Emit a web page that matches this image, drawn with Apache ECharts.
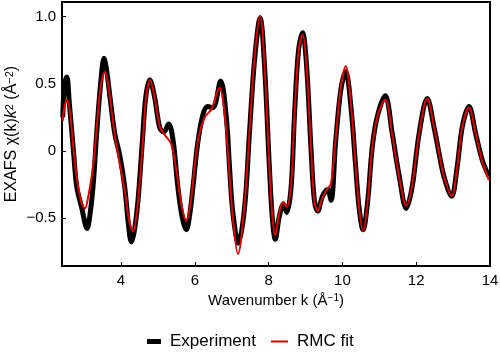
<!DOCTYPE html>
<html>
<head>
<meta charset="utf-8">
<script src="https://cdn.jsdelivr.net/npm/echarts@6/dist/echarts.min.js"></script>
<style>
  html, body { margin: 0; padding: 0; background: #fff; }
  #chart { width: 500px; height: 352px; }
</style>
</head>
<body>
<div id="chart"></div>
<script>
// experiment curve (black)
var kExp = [2.42, 2.47, 2.53, 2.60, 2.71, 2.80, 2.93, 3.08, 3.17, 3.25, 3.34, 3.45, 3.54, 3.62, 3.70, 3.83, 3.97, 4.10, 4.20, 4.28,
  4.36, 4.46, 4.58, 4.67, 4.78, 4.91, 5.05, 5.16, 5.29, 5.41, 5.54, 5.66, 5.77, 5.86, 5.95, 6.08, 6.22, 6.35, 6.49, 6.70,
  6.85, 6.94, 7.03, 7.18, 7.35, 7.48, 7.62, 7.77, 7.89, 8.02, 8.10, 8.18, 8.29, 8.40, 8.49, 8.61, 8.70, 8.81, 8.92, 9.03,
  9.15, 9.24, 9.33, 9.46, 9.60, 9.69, 9.82, 9.96, 10.09, 10.23, 10.36, 10.45, 10.56, 10.68, 10.81, 10.95, 11.16, 11.35, 11.54, 11.73,
  11.89, 12.08, 12.30, 12.48, 12.62, 12.75, 12.96, 13.11, 13.25, 13.43, 13.61, 13.79, 13.97]
var yExp = [0.25, 0.50, 0.55, 0.35, 0.00, -0.27, -0.42, -0.58, -0.45, -0.24, 0.13, 0.51, 0.69, 0.58, 0.40, 0.13, -0.04, -0.27, -0.55, -0.68,
  -0.60, -0.37, 0.08, 0.40, 0.53, 0.40, 0.17, 0.14, 0.20, 0.08, -0.27, -0.50, -0.59, -0.48, -0.27, 0.06, 0.27, 0.33, 0.32, 0.52,
  0.26, -0.12, -0.46, -0.69, -0.42, 0.13, 0.68, 0.99, 0.63, -0.12, -0.50, -0.66, -0.49, -0.40, -0.46, -0.27, 0.26, 0.75, 0.88, 0.63,
  0.01, -0.37, -0.45, -0.34, -0.29, -0.37, 0.08, 0.46, 0.59, 0.33, -0.12, -0.42, -0.59, -0.39, 0.03, 0.26, 0.41, 0.13, -0.19, -0.43,
  -0.27, 0.13, 0.39, 0.18, -0.02, -0.19, -0.34, -0.12, 0.18, 0.33, 0.13, -0.07, -0.19]

// RMC fit curve (red)
var kFit = [2.42, 2.47, 2.54, 2.62, 2.71, 2.80, 2.92, 3.02, 3.12, 3.25, 3.34, 3.45, 3.56, 3.65, 3.72, 3.85, 3.97, 4.10, 4.22, 4.33,
  4.42, 4.50, 4.60, 4.68, 4.79, 4.92, 5.05, 5.18, 5.36, 5.50, 5.65, 5.77, 5.88, 5.97, 6.10, 6.27, 6.45, 6.67, 6.80, 6.92,
  7.03, 7.17, 7.33, 7.48, 7.62, 7.77, 7.89, 8.02, 8.10, 8.18, 8.29, 8.40, 8.49, 8.61, 8.70, 8.81, 8.92, 9.03, 9.15, 9.24,
  9.33, 9.46, 9.60, 9.69, 9.82, 9.96, 10.09, 10.23, 10.36, 10.45, 10.56, 10.68, 10.81, 10.95, 11.16, 11.35, 11.54, 11.73, 11.89, 12.08,
  12.30, 12.48, 12.62, 12.75, 12.96, 13.11, 13.25, 13.43, 13.61, 13.79, 13.97]
var yFit = [0.22, 0.33, 0.38, 0.28, 0.02, -0.20, -0.38, -0.43, -0.33, -0.10, 0.17, 0.48, 0.59, 0.50, 0.35, 0.08, -0.10, -0.30, -0.52, -0.60,
  -0.48, -0.25, 0.10, 0.40, 0.53, 0.38, 0.18, 0.12, 0.05, -0.15, -0.42, -0.52, -0.40, -0.18, 0.10, 0.25, 0.31, 0.47, 0.30, -0.10,
  -0.50, -0.77, -0.45, 0.13, 0.70, 1.01, 0.63, -0.12, -0.48, -0.63, -0.46, -0.38, -0.42, -0.25, 0.26, 0.74, 0.87, 0.62, 0.01, -0.37,
  -0.45, -0.35, -0.28, -0.25, 0.10, 0.48, 0.63, 0.35, -0.12, -0.42, -0.60, -0.39, 0.03, 0.26, 0.38, 0.12, -0.20, -0.41, -0.26, 0.13,
  0.39, 0.18, -0.02, -0.19, -0.34, -0.12, 0.18, 0.32, 0.13, -0.08, -0.22]

var xTicks = [4, 6, 8, 10, 12, 14]
var yTicks = [-0.5, 0, 0.5, 1.0]

function pairs (xs, ys) {
  var out = []
  for (var i = 0; i < xs.length; i++) out.push([xs[i], ys[i]])
  return out
}

var font = 'Liberation Sans, Arial, sans-serif'
// rich styles for axis titles (superscripts, italic k)
var titleRich = {
  a: { fontSize: 15, color: '#000', fontFamily: font },
  i: { fontSize: 15, color: '#000', fontFamily: font, fontStyle: 'italic' },
  s: { fontSize: 10, color: '#000', fontFamily: font, verticalAlign: 'top' }
}
var yTitleRich = {
  a: { fontSize: 16, color: '#000', fontFamily: font },
  i: { fontSize: 16, color: '#000', fontFamily: font, fontStyle: 'italic' },
  s: { fontSize: 11, color: '#000', fontFamily: font, verticalAlign: 'top' }
}

var chart = echarts.init(document.getElementById('chart'))
var option = {
  animation: false,
  textStyle: { fontFamily: font, color: '#000' },
  grid: {
    left: 62, right: 10, top: 2, bottom: 86,
    outerBoundsMode: 'none',
    containLabel: false,
    show: true, borderColor: '#000', borderWidth: 2
  },
  legend: [
    {
      left: 142, top: 328,
      icon: 'rect', itemWidth: 14, itemHeight: 5,
      textStyle: { fontSize: 17, color: '#000', fontFamily: font, padding: [0, 0, 0, 4] },
      data: ['Experiment']
    },
    {
      left: 266, top: 328,
      icon: 'rect', itemWidth: 17, itemHeight: 2,
      textStyle: { fontSize: 17, color: '#000', fontFamily: font, padding: [0, 0, 0, 4] },
      data: ['RMC fit']
    }
  ],
  xAxis: {
    type: 'value',
    min: 2.4, max: 14,
    name: '{a|Wavenumber k (Å}{s|−1}{a|)}',
    nameLocation: 'middle',
    nameGap: 27,
    nameTextStyle: { rich: titleRich },
    splitLine: { show: false },
    axisLine: { onZero: false, lineStyle: { color: '#000', width: 2 } },
    axisTick: { inside: true, length: 4, lineStyle: { color: '#000' }, customValues: xTicks },
    axisLabel: { fontSize: 15, color: '#000', margin: 7, customValues: xTicks }
  },
  yAxis: {
    type: 'value',
    min: -0.86, max: 1.11,
    name: '{a|EXAFS χ(k)}{i|k}{s|2}{a| (Å}{s|−2}{a|)}',
    nameLocation: 'middle',
    nameGap: 42,
    nameMoveOverlap: false,
    nameTextStyle: { rich: yTitleRich },
    splitLine: { show: false },
    axisLine: { onZero: false, lineStyle: { color: '#000', width: 2 } },
    axisTick: { inside: true, length: 4, lineStyle: { color: '#000' }, customValues: yTicks },
    axisLabel: {
      fontSize: 15, color: '#000', margin: 6, customValues: yTicks,
      formatter: function (v) {
        if (v === 0) return '0'
        return (v < 0 ? '\u2212' : '') + Math.abs(v).toFixed(1)
      }
    }
  },
  series: [
    {
      name: 'Experiment',
      type: 'line',
      data: pairs(kExp, yExp),
      smooth: 0.35,
      symbol: 'none',
      lineStyle: { color: '#000', width: 5 },
      itemStyle: { color: '#000' }
    },
    {
      name: 'RMC fit',
      type: 'line',
      data: pairs(kFit, yFit),
      smooth: 0.35,
      symbol: 'none',
      lineStyle: { color: '#e00000', width: 2 },
      itemStyle: { color: '#e00000' }
    }
  ]
}
chart.setOption(option)
</script>
</body>
</html>
